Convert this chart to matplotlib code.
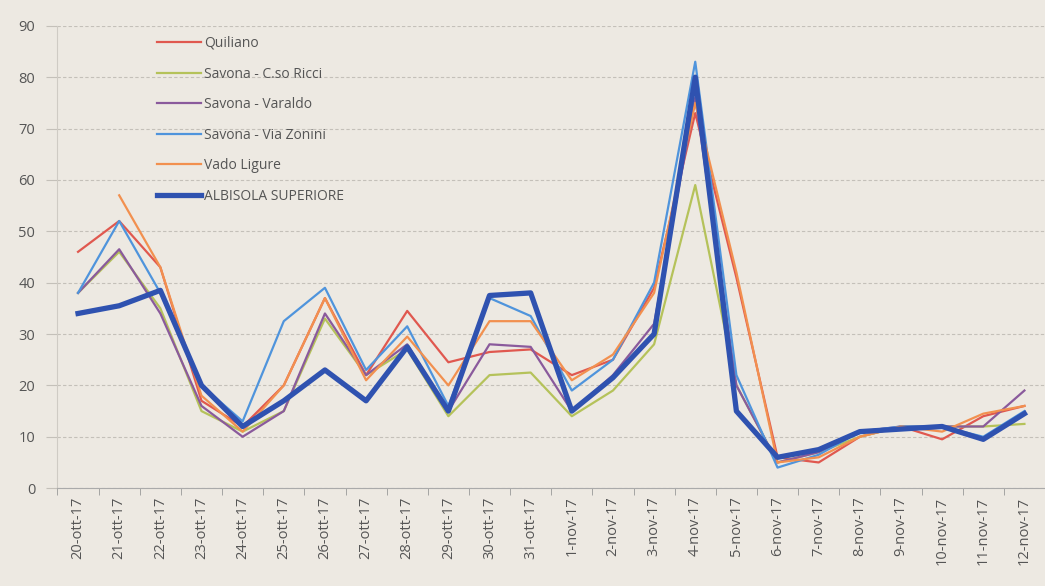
import matplotlib.pyplot as plt
import numpy as np

plt.rcParams['font.family'] = ['Open Sans', 'DejaVu Sans']

dates = ["20-ott-17", "21-ott-17", "22-ott-17", "23-ott-17", "24-ott-17", "25-ott-17",
         "26-ott-17", "27-ott-17", "28-ott-17", "29-ott-17", "30-ott-17", "31-ott-17",
         "1-nov-17", "2-nov-17", "3-nov-17", "4-nov-17", "5-nov-17", "6-nov-17",
         "7-nov-17", "8-nov-17", "9-nov-17", "10-nov-17", "11-nov-17", "12-nov-17"]

quiliano = [46, 52, 43, 17, 12, 20, 37, 22, 34.5, 24.5, 26.5, 27, 22, 25, 39, 73,
            41, 6, 5, 10, 12, 9.5, 14, 16]
ricci = [38, 46, 35, 15, 11, 15, 33, 22, 27, 14, 22, 22.5, 14, 19, 28, 59,
         20, 5, 7, 10, 12, 12, 12, 12.5]
varaldo = [38, 46.5, 34, 16, 10, 15, 34, 22, 28, 15, 28, 27.5, 15, 22, 32, 76,
           20, 5, 7, 11, 12, 12, 12, 19]
zonini = [38, 52, 38, 20, 13, 32.5, 39, 23, 31.5, 16, 37, 33.5, 19, 25, 40, 83,
          22, 4, 6.5, 11, 12, 12, 10, 15]
vado = [np.nan, 57, 43, 18, 11, 20, 37, 21, 29.5, 20, 32.5, 32.5, 21, 26, 38, 75,
        42, 5, 6, 10, 12, 11, 14.5, 16]
albisola = [34, 35.5, 38.5, 20, 12, 17, 23, 17, 27.5, 15, 37.5, 38, 15, 21.5, 30, 80,
            15, 6, 7.5, 11, 11.5, 12, 9.5, 14.5]

bg = '#ede9e2'
fig = plt.figure(figsize=(10.45, 5.86), dpi=100, facecolor=bg)
ax = fig.add_axes([0.055, 0.167, 0.945, 0.789], facecolor=bg)

x = np.arange(len(dates))
ax.plot(x, quiliano, color='#e0584f', lw=1.6, label='Quiliano')
ax.plot(x, ricci, color='#b5c25a', lw=1.6, label='Savona - C.so Ricci')
ax.plot(x, varaldo, color='#8a5a9c', lw=1.6, label='Savona - Varaldo')
ax.plot(x, zonini, color='#4f94dc', lw=1.6, label='Savona - Via Zonini')
ax.plot(x, vado, color='#f2904f', lw=1.6, label='Vado Ligure')
ax.plot(x, albisola, color='#2f52b0', lw=3.8, label='ALBISOLA SUPERIORE')

ax.set_xlim(-0.5, len(dates) - 0.5)
ax.set_ylim(0, 90)
ax.set_yticks(range(0, 91, 10))
ax.set_xticks(x)
ax.set_xticklabels(dates, rotation=90, fontsize=10.5, color='#555555')
ax.set_xticks(np.arange(-0.5, len(dates), 1), minor=True)
ax.tick_params(axis='x', which='major', length=0, pad=6)
ax.tick_params(axis='x', which='minor', length=5, color='#999999')
ax.tick_params(axis='y', length=8, color='#c4c0b9', labelsize=10.5, labelcolor='#555555', pad=8)

ax.grid(axis='y', color='#c4c0b9', lw=0.8, ls=(0, (3, 2)))
for s in ['top', 'right']:
    ax.spines[s].set_visible(False)
ax.spines['left'].set_color('#cfcbc4')
ax.spines['bottom'].set_color('#aaaaaa')

leg = ax.legend(loc='upper left', bbox_to_anchor=(0.088, 1.005), frameon=False,
                fontsize=10, handlelength=3.2, labelspacing=1.12, handletextpad=0.2)
for t in leg.get_texts():
    t.set_color('#555555')

plt.savefig('out.png', dpi=100, facecolor=bg)
